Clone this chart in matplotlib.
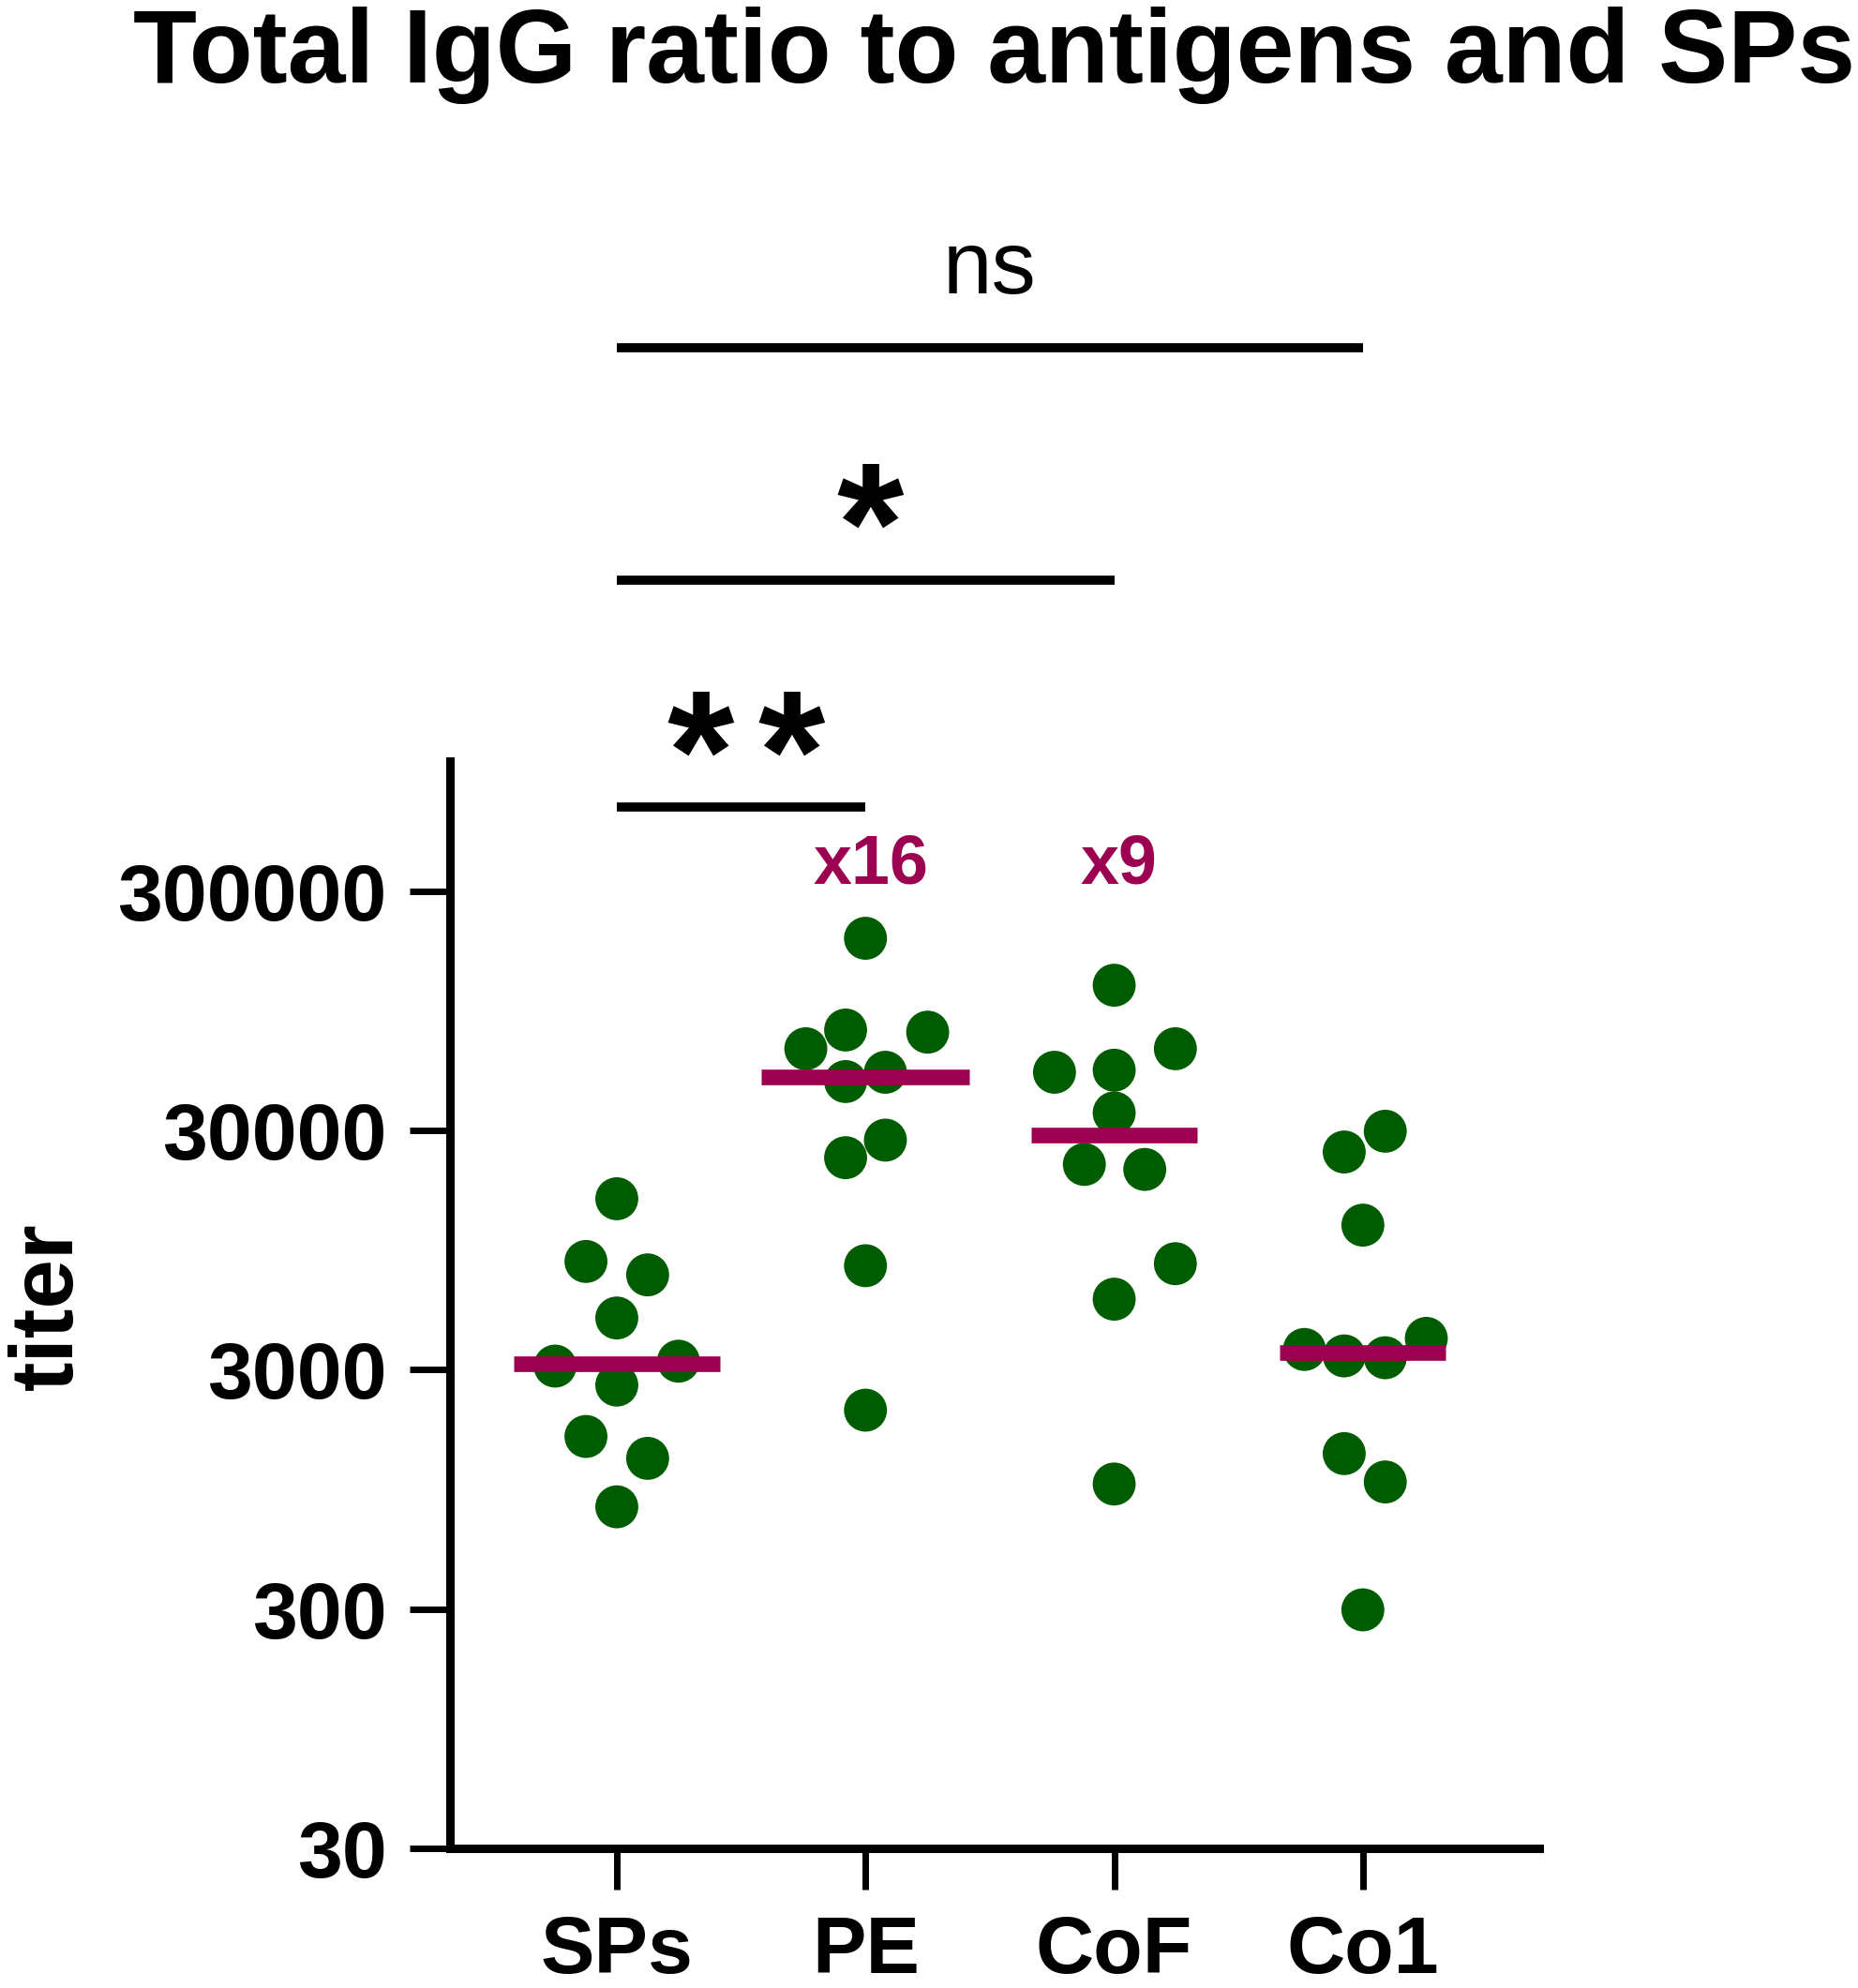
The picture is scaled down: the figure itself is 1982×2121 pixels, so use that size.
import matplotlib
matplotlib.use('Agg')
import matplotlib.pyplot as plt
import numpy as np

plt.rcParams['font.family'] = ['Liberation Sans', 'DejaVu Sans']

# ---------------- data ----------------
categories = ['SPs', 'PE', 'CoF', 'Co1']
sps_titer = [15560, 8510, 7480, 4940, 3110, 3260, 2590, 1580, 1280, 803]
pe_titer = [190700, 78900, 65900, 77300, 52550, 48050, 27350, 23100, 8170, 2035]
cof_titer = [121400, 52550, 53600, 65900, 35550, 21650, 20630, 8330, 5920, 1000]
co1_titer = [29800, 24400, 12070, 4060, 3650, 3430, 3370, 1340, 1020, 298]
groups = [sps_titer, pe_titer, cof_titer, co1_titer]

y_ticks = [30, 300, 3000, 30000, 300000]
y_tick_labels = ['30', '300', '3000', '30000', '300000']

comparisons = [(0, 1, '**'), (0, 2, '*'), (0, 3, 'ns')]
fold_labels = [(1, 'x16'), (2, 'x9')]

# ---------------- layout / style ----------------
# swarm offsets (in category units) reproducing the dot arrangement
swarm_offsets = [
    [0, -0.124, 0.124, 0, -0.248, 0.248, 0, -0.124, 0.124, 0],
    [0, -0.08, -0.24, 0.25, 0.08, -0.08, 0.08, -0.08, 0, 0],
    [0, -0.24, 0, 0.246, 0, -0.12, 0.123, 0.246, 0, 0],
    [0.09, -0.075, 0, 0.255, -0.235, -0.075, 0.09, -0.075, 0.09, 0],
]
median_halfwidth = [0.416, 0.418, 0.333, 0.334]
bar_levels = [6.72e5, 5.98e6, 5.6e7]
green = '#005c00'
magenta = '#9c0050'

fig = plt.figure(figsize=(19.83, 21.21), dpi=100)
ax = fig.add_axes([0.2423, 0.0702, 0.828 - 0.2423, 0.6172 - 0.0702])
ax.set_yscale('log')
ax.set_ylim(30, 1.05e6)
ax.set_xlim(-0.669, 3.709)

for i, (vals, offs) in enumerate(zip(groups, swarm_offsets)):
    x = i + np.array(offs)
    ax.scatter(x, vals, s=33 ** 2, color=green, edgecolors='none', zorder=3, clip_on=False)
    med = np.median(vals)
    hw = median_halfwidth[i]
    ax.plot([i - hw, i + hw], [med, med], color=magenta, lw=12,
            solid_capstyle='butt', zorder=4)

for spine in ['top', 'right']:
    ax.spines[spine].set_visible(False)
for spine in ['left', 'bottom']:
    ax.spines[spine].set_linewidth(6.5)
    ax.spines[spine].set_capstyle('projecting')

ax.set_yticks(y_ticks)
ax.set_yticklabels(y_tick_labels)
ax.minorticks_off()
ax.yaxis.set_minor_locator(matplotlib.ticker.NullLocator())
ax.set_xticks(range(len(categories)))
ax.set_xticklabels(categories)
ax.tick_params(axis='y', length=31, width=5, pad=18, labelsize=62)
ax.tick_params(axis='x', length=32, width=5, pad=19, labelsize=62)
for lab in ax.get_xticklabels() + ax.get_yticklabels():
    lab.set_fontweight('bold')

# significance bars
for (a, b, label), level in zip(comparisons, bar_levels):
    ax.plot([a, b], [level, level], color='black', lw=7, solid_capstyle='butt', clip_on=False)
    mid = (a + b) / 2
    if label == 'ns':
        ax.annotate(label, xy=(mid, level), xytext=(0, 42), textcoords='offset points',
                    ha='center', va='baseline', fontsize=68, annotation_clip=False)
    else:
        n = len(label)
        for k in range(n):
            xs = mid + 0.02 + (k - (n - 1) / 2) * 0.366
            ax.annotate('*', xy=(xs, level), xytext=(0, -2), textcoords='offset points',
                        ha='center', va='baseline', fontsize=132, fontweight='bold',
                        annotation_clip=False)

for idx, text in fold_labels:
    ax.text(idx + 0.02, 3.23e5, text, ha='center', va='baseline', fontsize=53,
            fontweight='bold', color=magenta)

fig.text(0.5346, 0.9585, 'Total IgG ratio to antigens and SPs', ha='center', va='baseline',
         fontsize=80, fontweight='bold')
fig.text(0.0262, 0.3428, 'titer', rotation=90, ha='center', va='center',
         fontsize=68, fontweight='bold')

fig.savefig('out.png', dpi=100, facecolor='white')
